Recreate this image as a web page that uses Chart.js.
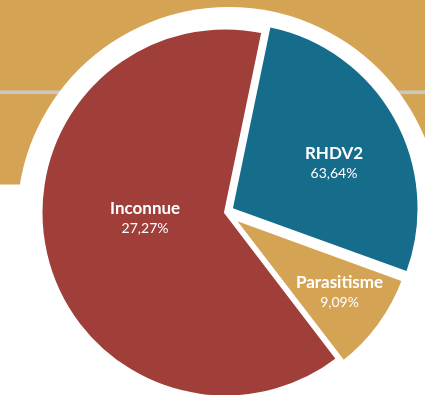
<!DOCTYPE html>
<html>
<head>
<meta charset="utf-8">
<script src="https://cdn.jsdelivr.net/npm/chart.js@4.4.1/dist/chart.umd.min.js"></script>
<style>
  html, body { margin: 0; padding: 0; background: #ffffff; overflow: hidden; }
  canvas { display: block; }
</style>
</head>
<body>
<canvas id="c" width="425" height="395"></canvas>
<script>
// Causes de mortalité (parts en %)
const categories = ['Inconnue', 'Parasitisme', 'RHDV2'];
const shares = [27.27, 9.09, 63.64];
const sliceColors = ['#166D8B', '#D4A454', '#A03E39'];

const fmtShare = v => v.toFixed(2).replace('.', ',') + '%';

// Gold band, grey rule and white disc behind the pie
const backdrop = {
  id: 'backdrop',
  beforeDatasetsDraw(chart) {
    const { ctx, width } = chart;
    const arc = chart.getDatasetMeta(0).data[0];
    ctx.save();
    ctx.fillStyle = '#D4A454';
    ctx.fillRect(0, 0, width, 184.5);
    ctx.fillStyle = '#C8C8C8';
    ctx.fillRect(0, 90.5, width, 3.5);
    ctx.fillStyle = '#FFFFFF';
    ctx.beginPath();
    ctx.arc(arc.x + 3.5, arc.y + 6.5, 212, 0, Math.PI * 2);
    ctx.fill();
    ctx.restore();
  }
};

// Two-line labels: category name in bold, share below
const sliceLabels = {
  id: 'sliceLabels',
  afterDatasetsDraw(chart, args, opts) {
    const { ctx } = chart;
    const arc0 = chart.getDatasetMeta(0).data[0];
    const r = arc0.outerRadius;
    ctx.save();
    ctx.fillStyle = '#FFFFFF';
    ctx.textAlign = 'center';
    ctx.textBaseline = 'alphabetic';
    categories.forEach((name, i) => {
      const [fx, fy] = opts.anchors[i];
      const x = arc0.x + fx * r;
      const y = arc0.y + fy * r;
      ctx.font = 'bold 17px Lato';
      ctx.fillText(name, x, y);
      ctx.font = '14px Lato';
      ctx.fillText(fmtShare(shares[i]), x, y + 19);
    });
    ctx.restore();
  }
};

new Chart(document.getElementById('c'), {
  type: 'pie',
  data: {
    labels: categories,
    datasets: [{
      data: shares,
      backgroundColor: sliceColors,
      borderColor: '#FFFFFF',
      borderWidth: [0, 5.6, 3],
      borderJoinStyle: 'miter',
      offset: [34, 20, 0],
      clip: false
    }]
  },
  options: {
    responsive: false,
    animation: false,
    events: [],
    rotation: 11.7,
    radius: 184.5,
    layout: { padding: { left: 26, top: 30, right: 0, bottom: 0 } },
    plugins: {
      legend: { display: false },
      tooltip: { enabled: false },
      sliceLabels: {
        anchors: [[-0.436, 0.010], [0.618, 0.409], [0.588, -0.288]]
      }
    }
  },
  plugins: [backdrop, sliceLabels]
});
</script>
</body>
</html>
